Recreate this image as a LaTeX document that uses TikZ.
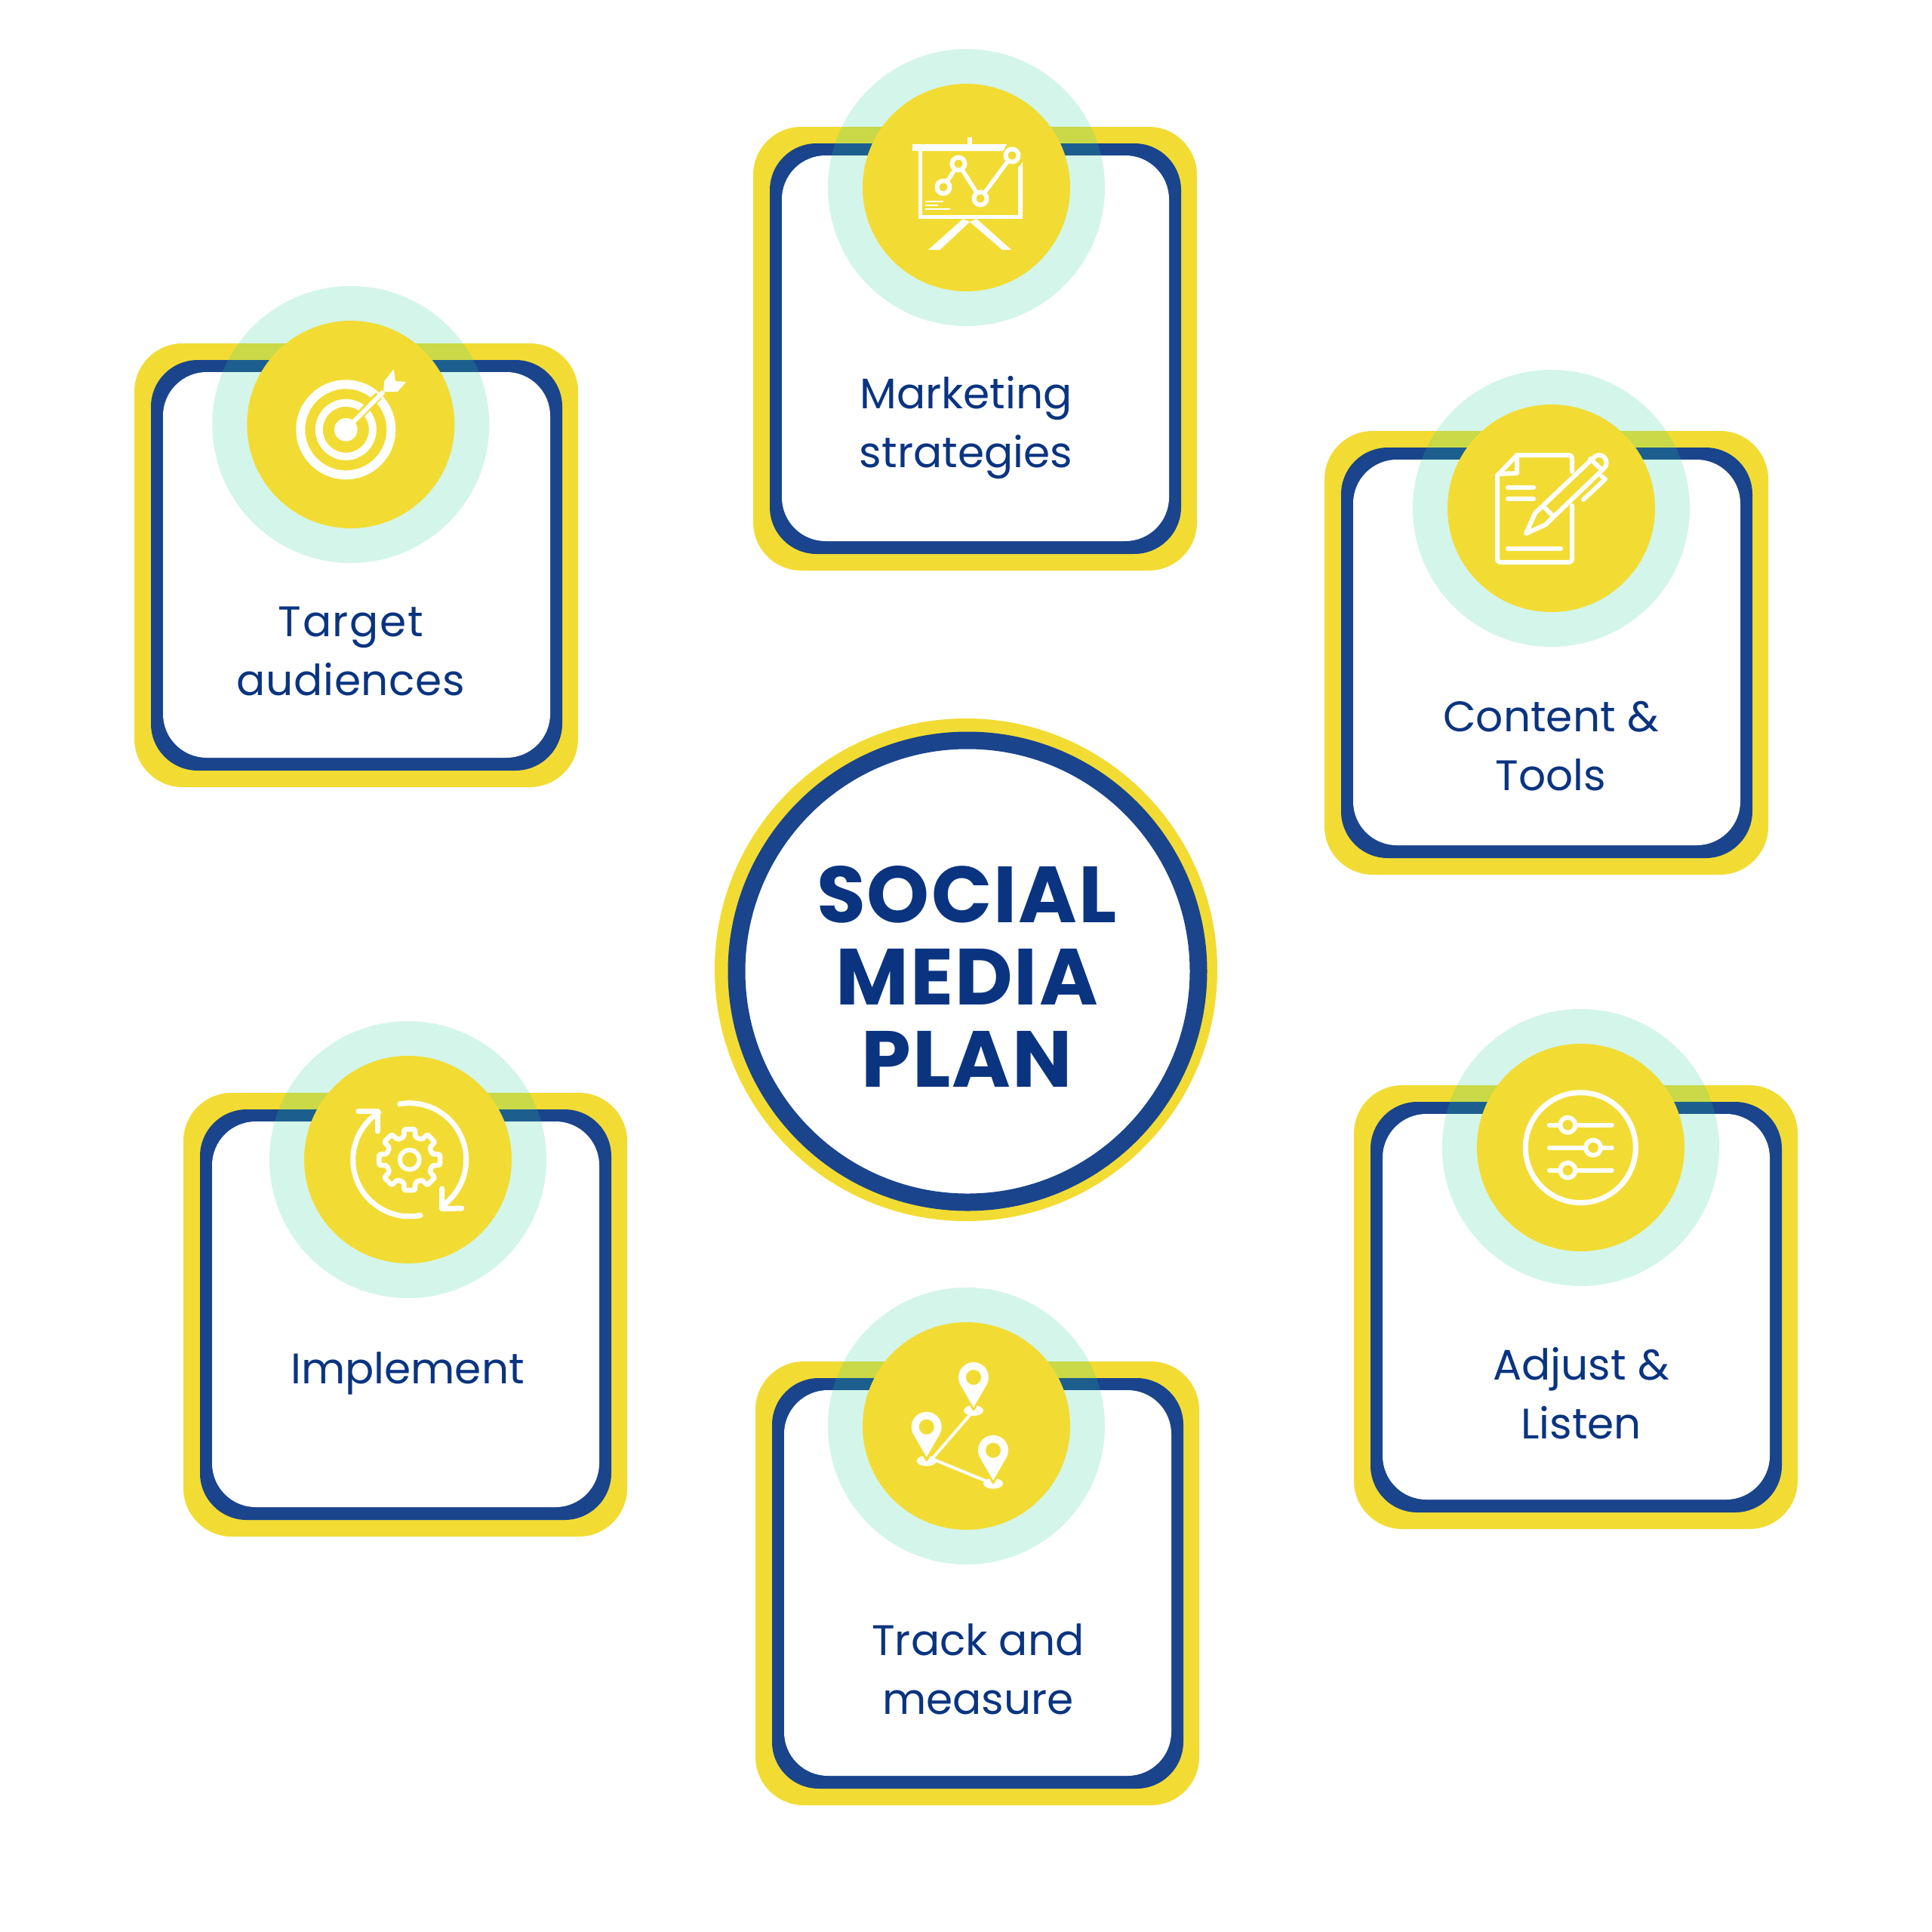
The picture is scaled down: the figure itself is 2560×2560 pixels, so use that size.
\documentclass[tikz,border=0pt]{standalone}
\usepackage{fontspec}
\setmainfont{Poppins}
\newfontfamily\titlefont[LetterSpace=2]{Poppins Bold}
\newfontfamily\widea[LetterSpace=3]{Poppins}
\newfontfamily\wideb[LetterSpace=1.2]{Poppins}
\usetikzlibrary{calc}
\definecolor{cardyellow}{RGB}{242,220,52}
\definecolor{cardblue}{RGB}{26,68,140}
\definecolor{halo}{RGB}{40,205,150}
\definecolor{textblue}{RGB}{10,52,128}
\def\px{0.01cm}
\tikzset{
  yellowbox/.style={fill=cardyellow,rounded corners=0.64cm},
  bluebox/.style={fill=cardblue,rounded corners=0.62cm},
  whitebox/.style={fill=white,rounded corners=0.58cm},
  halodisc/.style={fill=halo,fill opacity=0.2},
  discfill/.style={fill=cardyellow},
  icon/.style={draw=white,line width=6*\px,line cap=round,line join=round},
  iconthin/.style={draw=white,line width=2.5*\px},
  whitefill/.style={fill=white},
  cardlabel/.style={text=textblue,align=center,font=\fontsize{16.1pt}{22.2pt}\selectfont,inner sep=0pt},
  titlelabel/.style={text=textblue,align=center,font=\titlefont\fontsize{30pt}{30.9pt}\selectfont,inner sep=0pt},
}
% #1 outer left, #2 outer top, #3 circle x, #4 circle y
\newcommand{\cardshape}[4]{%
  \fill[yellowbox] (#1,#2) rectangle ++(588,588);
  \fill[bluebox] ({#1+22},{#2+22}) rectangle ({#1+567},{#2+566});
  \fill[whitebox] ({#1+38},{#2+38}) rectangle ({#1+551},{#2+549});
  \fill[halodisc] (#3,#4) circle[radius=183.5];
  \fill[discfill] (#3,#4) circle[radius=137.5];
}
\newcommand{\pinicon}[2]{%
  \fill[whitefill] (#1,#2) circle[radius=20];
  \fill[whitefill] ({#1-17.3},{#2+10}) -- ({#1+17.3},{#2+10}) -- (#1,{#2+40}) -- cycle;
  \fill[discfill] (#1,#2) circle[radius=10];
}
\begin{document}
\begin{tikzpicture}[x=0.01cm,y=-0.01cm]
\useasboundingbox (0,0) rectangle (2560,2560);
\fill[white] (0,0) rectangle (2560,2560);

% centre
\fill[cardyellow] (1280,1285) circle[radius=333];
\draw[cardblue,fill=white,line width=23*\px] (1282,1287) circle[radius=306];
\node[titlelabel] (title) at (1281,1294) {SOCIAL\\MEDIA\\PLAN};

% cards
\cardshape{998}{168}{1280.5}{248.5}
\cardshape{178}{455}{464.8}{562.5}
\cardshape{1755}{571}{2055.5}{673.5}
\cardshape{243}{1448}{540.5}{1536.5}
\cardshape{1001}{1804}{1280.5}{1889.5}
\cardshape{1794}{1438}{2094.5}{1520.5}

\node[cardlabel] (marketing) at (1280,566.5) {Marketing\\strategies};
\node[cardlabel] (target) at (465,863) {{\widea Target}\\{\wideb audiences}};
\node[cardlabel] (content) at (2055,989) {Content \&\\Tools};
\node[cardlabel] (implement) at (540,1820) {Implement};
\node[cardlabel] (track) at (1296,2212) {Track and\\measure};
\node[cardlabel] (adjust) at (2095,1846.5) {Adjust \&\\Listen};

% presentation icon
\fill[whitefill] (1209,191) -- (1334,191) -- (1329,200) -- (1209,200) -- cycle;
\fill[whitefill] (1282,182) rectangle (1288,191);
\fill[whitefill] (1217,200) rectangle (1222,285);
\fill[whitefill] (1217,285) rectangle (1355,290);
\fill[whitefill] (1349,290) -- (1355,290) -- (1355,215) -- (1349,222) -- cycle;
\draw[icon,line width=5.5*\px] (1250,248) -- (1270,217) -- (1299,263) -- (1341,206);
\foreach \cx/\cy in {1250/248,1270/217,1299/263,1341/206}
  \draw[icon,fill=cardyellow] (\cx,\cy) circle[radius=8.5];
\draw[iconthin] (1226,267) -- (1250,267);
\draw[iconthin] (1226,272) -- (1243,272);
\draw[iconthin] (1226,277) -- (1259,277);
\fill[whitefill] (1276,290) -- (1285,294) -- (1245.5,331) -- (1230,331) -- cycle;
\fill[whitefill] (1294,290) -- (1340,331) -- (1328,331) -- (1285,294) -- cycle;

% target icon
\draw[white,line width=12*\px] (458.3,569.3) circle[radius=60];
\draw[white,line width=10*\px] (458.3,569.3) circle[radius=35.5];
\draw[cardyellow,line width=11*\px] (475,552) -- (502,524);
\fill[whitefill] (458.3,569.3) circle[radius=15.3];
\draw[white,line width=6*\px] (458.3,569.3) -- (508,519);
\fill[whitefill] (521.7,489.3) -- (524,505) -- (538.3,506) -- (526.7,519) -- (508,519) -- (509.3,505) -- cycle;

% document and pen icon
\draw[icon] (1984,630) -- (2010,603);
\draw[icon,rounded corners=4*\px] (2083,625) -- (2083,603) -- (2010,603);
\draw[icon,rounded corners=4*\px] (2083,670) -- (2083,745) -- (1984,745) -- (1984,630);
\draw[icon] (2010,603) -- (2010,627) -- (1986,628);
\draw[icon] (1998,646) -- (2032,646);
\draw[icon] (1998,661) -- (2032,661);
\draw[icon] (1998,727) -- (2068,727);
\draw[icon] (2022,707) -- (2034,680) -- (2113,605) .. controls (2122,598) and (2134,610) .. (2126,620) -- (2048,695) -- cycle;
\draw[icon] (2047,673) -- (2057,683);
\draw[icon] (2107,608) -- (2123,623);
\draw[icon] (2122,631) -- (2127,635) -- (2098,662);

% gear icon
\coordinate (gc) at (542.7,1536.7);
\draw[icon] (gc) circle[radius=13];
\draw[icon,line width=6.5*\px,rounded corners=2*\px]
  ([shift={(-14:31)}]gc)
  \foreach \a in {0,45,...,315} {
    -- ([shift={(\a-14:31)}]gc) -- ([shift={(\a-10:41)}]gc) -- ([shift={(\a+10:41)}]gc) -- ([shift={(\a+14:31)}]gc)
  } -- cycle;
\draw[icon,line width=7*\px] ([shift={(260:75)}]gc) arc[start angle=260,end angle=413,radius=75];
\draw[icon,line width=7*\px] ([shift={(79:75)}]gc) arc[start angle=79,end angle=237,radius=75];
\coordinate (ga) at (585.7,1601.7);
\coordinate (gb) at (500,1472.7);
\draw[icon,line width=7*\px] (585.7,1575) -- (ga) -- (611.7,1601);
\draw[icon,line width=7*\px] (475,1472.7) -- (gb) -- (500,1499);

% map pins icon
\draw[icon,line width=4*\px] (1285,1875) -- (1235,1933) -- (1308,1963);
\fill[whitefill] (1290,1869) ellipse[x radius=13,y radius=7];
\fill[whitefill] (1227.7,1935.7) ellipse[x radius=13,y radius=7];
\fill[whitefill] (1316,1965.7) ellipse[x radius=13,y radius=7];
\draw[cardyellow,line width=4*\px,line join=round] (1277,1843) -- (1290,1867) -- (1303,1843);
\draw[cardyellow,line width=4*\px,line join=round] (1214.7,1909) -- (1227.7,1934) -- (1240.7,1909);
\draw[cardyellow,line width=4*\px,line join=round] (1303,1940) -- (1316,1964) -- (1329,1940);
\pinicon{1290}{1825}
\pinicon{1227.7}{1890.7}
\pinicon{1316}{1921.7}

% sliders icon
\draw[icon,line width=7*\px] (2094.3,1520.7) circle[radius=73];
\foreach \ly/\kx in {1490.7/2077.3,1520.7/2111,1550.7/2077.3} {
  \draw[icon] (2053,\ly) -- (2135.7,\ly);
  \draw[icon,fill=cardyellow] (\kx,\ly) circle[radius=10];
}
\end{tikzpicture}
\end{document}
